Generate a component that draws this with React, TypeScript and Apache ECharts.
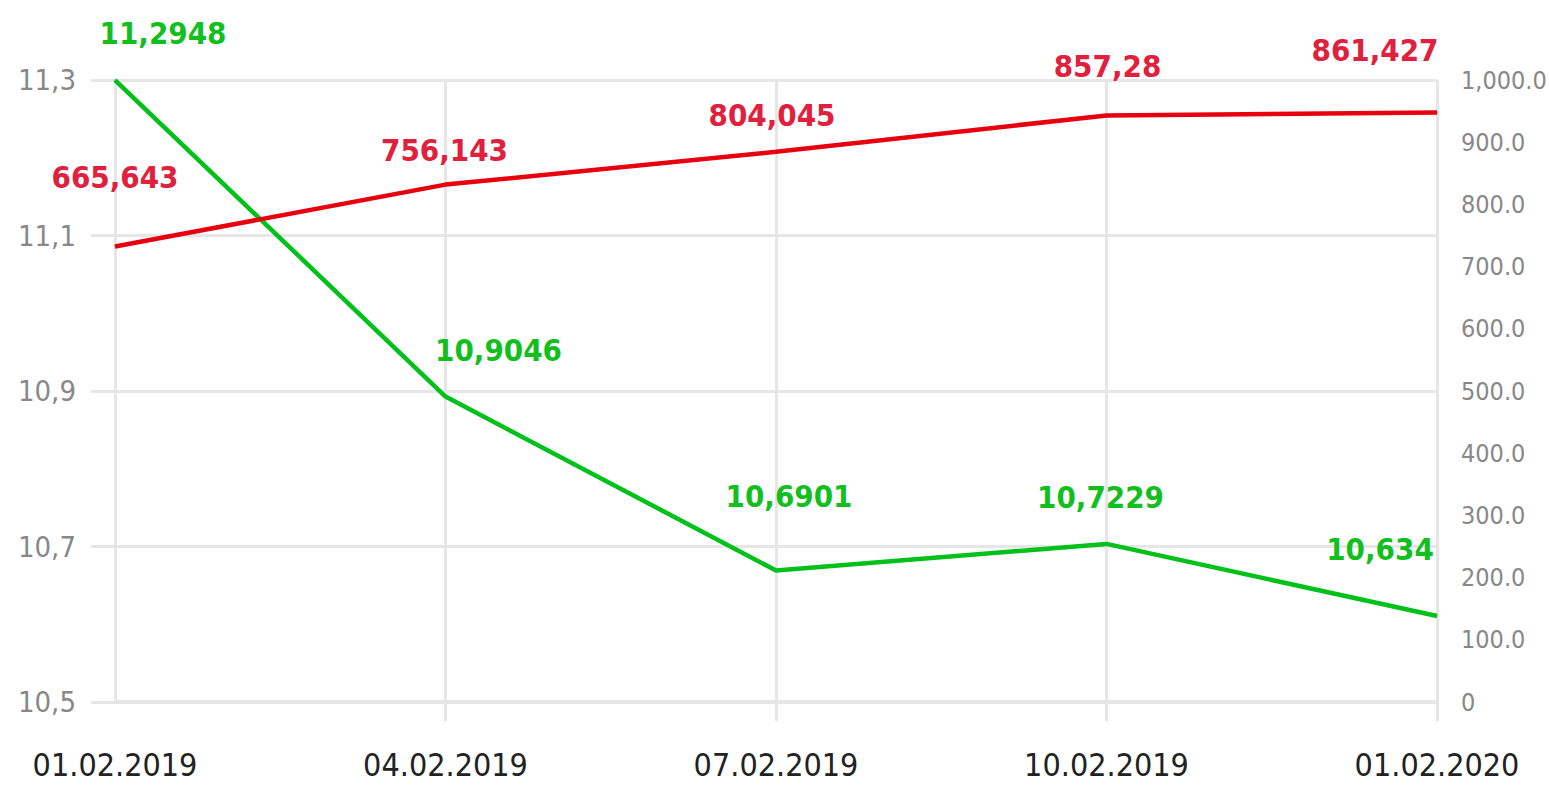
import React, { useEffect, useRef } from "react";
import * as echarts from "echarts";

const categories = ["01.02.2019", "04.02.2019", "07.02.2019", "10.02.2019", "01.02.2020"];
const greenValues = [11.2948, 10.9046, 10.6901, 10.7229, 10.634];
const redValues = [665.643, 756.143, 804.045, 857.28, 861.427];
const leftTickLabels = ["10,5", "10,7", "10,9", "11,1", "11,3"];

// label placement (styling, not data)
const greenLabelOffsets = [[48, -47], [53, -47], [13, -75], [-6, -47], [-57, -67]];
const redLabelOffsets = [[0, -70], [-1, -35], [-4, -37], [1, -49], [-62, -63]];

const FONT = "'DejaVu Sans Condensed', 'Liberation Sans Narrow', sans-serif";
const GRID = "#e6e6e6";

const fmtComma = (v: number) => String(v).replace(".", ",");
const fmtRight = (v: number) =>
  v === 0 ? "0" : v.toLocaleString("en-US", { minimumFractionDigits: 1, maximumFractionDigits: 1 });

export default function App() {
  const ref = useRef<HTMLDivElement>(null);
  useEffect(() => {
    if (!ref.current) return;
    const chart = echarts.init(ref.current, undefined, { renderer: "svg" });
    const labelBase = {
      show: true,
      position: "inside",
      align: "center",
      verticalAlign: "middle",
      fontFamily: FONT,
      fontWeight: "bold",
      fontSize: 31,
      formatter: (p: any) => fmtComma(p.value),
    };
    chart.setOption({
      animation: false,
      backgroundColor: "#ffffff",
      grid: { left: 115, right: 112, top: 80, bottom: 84, containLabel: false, outerBoundsMode: "none" },
      xAxis: {
        type: "category",
        data: categories,
        boundaryGap: false,
        axisLine: { show: true, lineStyle: { color: GRID, width: 4 } },
        axisTick: {
          show: true,
          length: 19,
          interval: (i: number) => i !== 0,
          lineStyle: { color: GRID, width: 3 },
        },
        splitLine: { show: true, lineStyle: { color: GRID, width: 3 } },
        axisLabel: { color: "#222222", fontSize: 32, fontFamily: FONT, margin: 47 },
      },
      yAxis: [
        {
          type: "value",
          position: "left",
          min: 0,
          max: 4,
          interval: 1,
          axisLine: { show: false },
          axisTick: { show: true, length: 24, lineStyle: { color: GRID, width: 3 } },
          splitLine: { show: true, lineStyle: { color: GRID, width: 3 } },
          axisLabel: {
            color: "#888888",
            fontSize: 29,
            fontFamily: FONT,
            margin: 39,
            formatter: (v: number) => leftTickLabels[Math.round(v)],
          },
        },
        {
          type: "value",
          position: "right",
          min: 0,
          max: 1000,
          interval: 100,
          axisLine: { show: false },
          axisTick: { show: false },
          splitLine: { show: false },
          axisLabel: { color: "#888888", fontSize: 25, fontFamily: FONT, margin: 24, formatter: fmtRight },
        },
        { type: "value", show: false, position: "left", min: 10.528, max: 11.2948, splitLine: { show: false } },
        { type: "value", show: false, position: "right", min: 0, max: 909, splitLine: { show: false } },
      ],
      series: [
        {
          type: "line",
          yAxisIndex: 2,
          data: greenValues.map((v, i) => ({ value: v, label: { offset: greenLabelOffsets[i] } })),
          lineStyle: { color: "#00c11a", width: 4.5 },
          itemStyle: { color: "#00c11a" },
          symbol: "circle",
          symbolSize: 1,
          showSymbol: true,
          label: { ...labelBase, color: "#12bf1f" },
          z: 3,
        },
        {
          type: "line",
          yAxisIndex: 3,
          data: redValues.map((v, i) => ({ value: v, label: { offset: redLabelOffsets[i] } })),
          lineStyle: { color: "#e8000f", width: 4.5 },
          itemStyle: { color: "#e8000f" },
          symbol: "circle",
          symbolSize: 1,
          showSymbol: true,
          label: { ...labelBase, color: "#e0203c" },
          z: 4,
        },
      ],
    });
    return () => chart.dispose();
  }, []);
  return (
    <div
      ref={ref}
      style={{ position: "fixed", left: 0, top: 0, width: 1549, height: 786, background: "#fff" }}
    />
  );
}
